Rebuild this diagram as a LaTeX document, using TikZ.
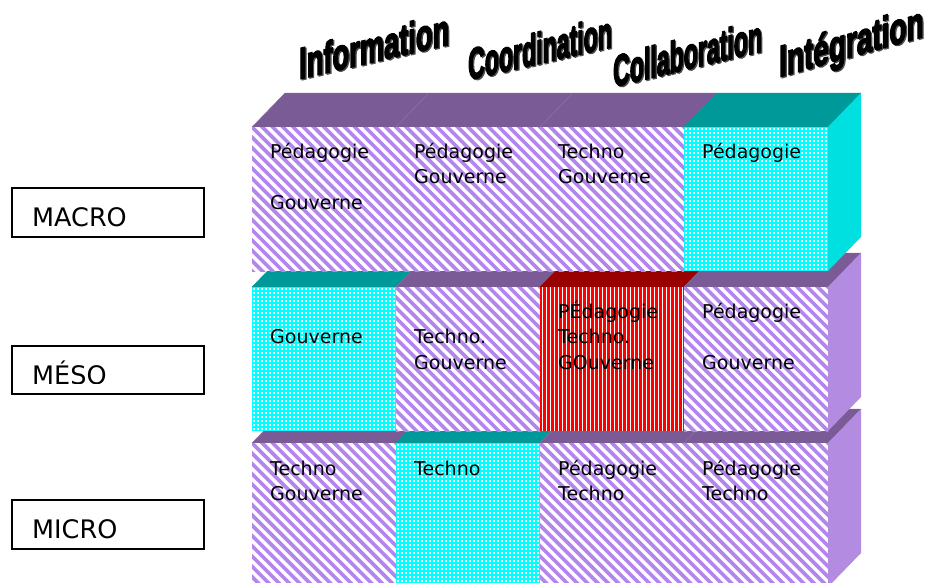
\documentclass[tikz,border=0pt]{standalone}
\usepackage{fontspec}
\setmainfont{DejaVu Sans}
\newfontfamily\titlefont{Liberation Sans}[BoldFeatures={FakeBold=4}]
\definecolor{topP}{HTML}{7B5B96}
\definecolor{topT}{HTML}{009999}
\definecolor{topR}{HTML}{990000}
\definecolor{lav}{HTML}{B585EE}
\definecolor{sideC}{HTML}{00E0E0}
\definecolor{sideL}{HTML}{B38BE0}
\definecolor{cyanF}{HTML}{00FFFF}
\definecolor{redF}{HTML}{FF0000}
\definecolor{topline}{HTML}{8C70A8}
\definecolor{shadowG}{HTML}{505050}
% top face of a cell
\newcommand\topface[3]{%
  \filldraw[#3] (#1,#2) -- ++(33,-34) -- ++(144,0) -- ++(-33,34) -- cycle;
}
% striped front face
\newcommand\stripecell[2]{%
  \begin{scope}
    \clip (#1,#2) rectangle ++(144,144);
    \fill[white] (#1,#2) rectangle ++(144,144);
    \foreach \k in {-14,...,14}
      \draw[stripeline] ({#1+\k*10.2857-2},{#2-2}) -- ++(150,150);
  \end{scope}
}
% dotted cyan front face
\newcommand\dotcell[2]{%
  \begin{scope}
    \clip (#1,#2) rectangle ++(144,144);
    \fill[cyanF] (#1,#2) rectangle ++(144,144);
    \foreach \k in {0,...,35}
      \draw[dotline] ({#1+2+\k*4},{#2+1}) -- ++(0,144);
  \end{scope}
}
% red striped front face
\newcommand\redcell[2]{%
  \begin{scope}
    \clip (#1,#2) rectangle ++(144,144);
    \fill[redF] (#1,#2) rectangle ++(144,144);
    \foreach \k in {0,...,35}
      \draw[redline] ({#1+2.5+\k*4},#2) -- ++(0,144);
  \end{scope}
}
\newcommand\sideface[2]{%
  \fill[#2] (828,#1) -- ++(33,-34) -- ++(0,144) -- ++(-33,34) -- cycle;
}
% slanted WordArt-like title: name, x, y, slant, xscale, text
\newcommand\titleword[6]{%
  \begin{scope}[shift={(#2+1.3,#3+1.1)}]
    \node[titletext, text=shadowG, yslant=#4, xscale=#5] (#1s) at (0,0) {#6};
  \end{scope}
  \begin{scope}[shift={(#2,#3)}]
    \node[titletext, yslant=#4, xscale=#5] (#1) at (0,0) {#6};
  \end{scope}
}
\begin{document}
\begin{tikzpicture}[x=1pt,y=-1pt,
  stripeline/.style={draw=lav, line width=3.6pt},
  dotline/.style={draw=white, line width=1.6pt, dash pattern=on 1.6pt off 2.4pt},
  redline/.style={draw=white, line width=1pt},
  ptop/.style={fill=topP, draw=topline, line width=0.4pt},
  ttop/.style={fill=topT, draw=topT, line width=0.4pt},
  rtop/.style={fill=topR, draw=topR, line width=0.4pt},
  celltext/.style={anchor=north west, inner sep=0pt, align=left, font=\fontsize{19}{25.7}\selectfont},
  levelbox/.style={draw=black, line width=1.4pt},
  leveltext/.style={anchor=base west, inner sep=0pt, font=\fontsize{25.5}{30}\selectfont},
  titletext/.style={anchor=base west, inner sep=0pt, transform shape, text=black, font=\titlefont\bfseries\fontsize{44}{48}\selectfont},
]
\useasboundingbox (0,0) rectangle (936,582);
\clip (0,0) rectangle (936,582);
\fill[white] (0,0) rectangle (936,582);

% ---------- row 3 (MICRO) ----------
\topface{252}{443}{ptop}
\topface{396}{443}{ttop}
\topface{540}{443}{ptop}
\topface{684}{443}{ptop}
\stripecell{252}{443}
\dotcell{396}{443}
\stripecell{540}{443}
\stripecell{684}{443}
\sideface{443}{sideL}

% ---------- row 2 (MESO) ----------
\topface{252}{287}{ttop}
\topface{396}{287}{ptop}
\topface{540}{287}{rtop}
\topface{684}{287}{ptop}
\dotcell{252}{287}
\stripecell{396}{287}
\redcell{540}{287}
\stripecell{684}{287}
\sideface{287}{sideL}

% ---------- row 1 (MACRO) ----------
\topface{252}{127}{ptop}
\topface{396}{127}{ptop}
\topface{540}{127}{ptop}
\topface{684}{127}{ttop}
\stripecell{252}{127}
\stripecell{396}{127}
\stripecell{540}{127}
\dotcell{684}{127}
\sideface{127}{sideC}

% ---------- cell texts ----------
\node[celltext] (c11) at (270,140) {\strut Pédagogie\\\strut\\\strut Gouverne};
\node[celltext] (c12) at (414,140) {\strut Pédagogie\\\strut Gouverne};
\node[celltext] (c13) at (558,140) {\strut Techno\\\strut Gouverne};
\node[celltext] (c14) at (702,140) {\strut Pédagogie};

\node[celltext] (c21) at (270,300) {\strut\\\strut Gouverne};
\node[celltext] (c22) at (414,300) {\strut\\\strut Techno.\\\strut Gouverne};
\node[celltext] (c23) at (558,300) {\strut PÉdagogie\\\strut Techno.\\\strut GOuverne};
\node[celltext] (c24) at (702,300) {\strut Pédagogie\\\strut\\\strut Gouverne};

\node[celltext] (c31) at (270,457) {\strut Techno\\\strut Gouverne};
\node[celltext] (c32) at (414,457) {\strut Techno};
\node[celltext] (c33) at (558,457) {\strut Pédagogie\\\strut Techno};
\node[celltext] (c34) at (702,457) {\strut Pédagogie\\\strut Techno};

% ---------- level labels ----------
\draw[levelbox] (12,188) rectangle (204,237);
\draw[levelbox] (12,346) rectangle (204,394);
\draw[levelbox] (12,500) rectangle (204,549);
\begin{scope}
  \clip (12,188) rectangle (204,226);
  \node[leveltext] (macro) at (32,226.5) {MACRO};
\end{scope}
\begin{scope}
  \clip (12,346) rectangle (204,383);
  \node[leveltext] (meso) at (32,384) {MÉSO};
\end{scope}
\begin{scope}
  \clip (12,500) rectangle (204,538);
  \node[leveltext] (micro) at (32,538) {MICRO};
\end{scope}

% ---------- column titles ----------
\titleword{tinfo}{299}{79}{0.23}{0.62}{Information}
\titleword{tcoord}{468}{80}{0.23}{0.525}{Coordination}
\titleword{tcollab}{613}{87}{0.24}{0.525}{Collaboration}
\titleword{tinteg}{779}{77}{0.28}{0.635}{Intégration}
\end{tikzpicture}
\end{document}
